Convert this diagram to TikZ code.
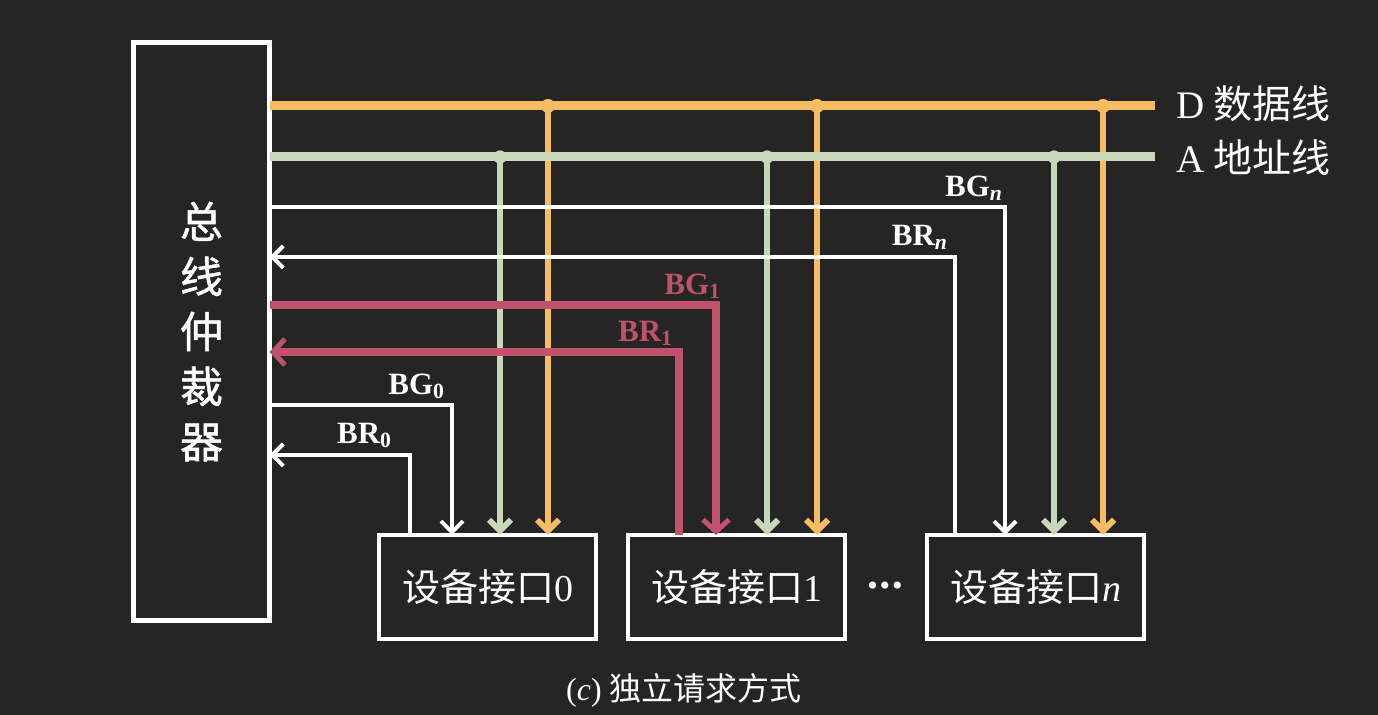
\documentclass[tikz,border=0pt]{standalone}
\usepackage{fontspec}
\setmainfont{Liberation Serif}
\newfontfamily\cjk{Noto Sans CJK SC}
\newfontfamily\cjkm[FakeBold=1.2]{Noto Sans CJK SC}
\usetikzlibrary{arrows.meta}
\definecolor{bgcol}{RGB}{37,37,37}
\definecolor{dcol}{RGB}{246,188,98}
\definecolor{acol}{RGB}{198,216,184}
\definecolor{rcol}{RGB}{192,82,108}
\begin{document}
\begin{tikzpicture}[x=0.5pt,y=-0.5pt,
  every node/.style={inner sep=0pt, outer sep=0pt},
  devbox/.style={draw=white, line width=2pt, minimum width=108.5pt, minimum height=52pt,
    anchor=north west, text=white, font=\fontsize{19}{22}\selectfont},
  arbbox/.style={draw=white, line width=2.5pt, minimum width=68pt, minimum height=289pt,
    text=white, align=center, font=\cjkm\fontsize{21.5}{27.5}\selectfont},
  wline/.style={draw=white, line width=2pt},
  dbus/.style={draw=dcol, line width=4.5pt},
  abus/.style={draw=acol, line width=4.5pt},
  dvert/.style={draw=dcol, line width=3pt},
  avert/.style={draw=acol, line width=3pt},
  rline/.style={draw=rcol, line width=4pt},
  tip/.style={-{Straight Barb[length=5.5pt,width=11pt]}},
  rtip/.style={-{Straight Barb[length=6pt,width=13pt,line width=2.5pt]}},
  siglabel/.style={font=\bfseries\fontsize{15.5}{18}\selectfont, anchor=south east, text=white},
  buslabel/.style={anchor=west, text=white, font=\fontsize{19.5}{22}\selectfont},
]
\fill[bgcol] (0,0) rectangle (1378,715);
\useasboundingbox (0,0) rectangle (1378,715);

% arbiter and device interfaces
\node[arbbox] (arb) at (201.5,331.5) {总\\线\\仲\\裁\\器};
\node[devbox] (d0) at (379,535) {{\cjk 设备接口}0};
\node[devbox] (d1) at (628,535) {{\cjk 设备接口}1};
\node[devbox] (dn) at (927,535) {{\cjk 设备接口}\textit{n}};
\node[text=white, font=\fontsize{15}{18}\selectfont] (dots) at (885,589) {\textbullet\hspace{1pt}\textbullet\hspace{1pt}\textbullet};

% bus ends and junctions
\coordinate (Dend) at (1155,106);
\coordinate (Aend) at (1155,157);
\coordinate (dj0) at (548,106);
\coordinate (dj1) at (817,106);
\coordinate (djn) at (1103,106);
\coordinate (aj0) at (500,157);
\coordinate (aj1) at (767,157);
\coordinate (ajn) at (1054,157);

% vertical bus taps
\foreach \j/\b in {aj0/d0, aj1/d1, ajn/dn}
  \draw[avert, tip] (\j) -- (\j |- \b.north);
\foreach \j/\b in {dj0/d0, dj1/d1, djn/dn}
  \draw[dvert, tip] (\j) -- (\j |- \b.north);

% buses
\draw[abus] (arb.east |- Aend) -- (Aend);
\draw[dbus] (arb.east |- Dend) -- (Dend);
\foreach \j in {aj0, aj1, ajn} \fill[acol] (\j) circle (3.3pt);
\foreach \j in {dj0, dj1, djn} \fill[dcol] (\j) circle (3.5pt);

% device n
\coordinate (bgn) at (1005,207);
\coordinate (brn) at (955,257);
\draw[wline, tip] (arb.east |- bgn) -- (bgn) -- (bgn |- dn.north);
\draw[wline, tip] (brn |- dn.north) -- (brn) -- (arb.east |- brn);

% device 1
\coordinate (bg1) at (716,305);
\coordinate (br1) at (679,352);
\draw[rline, rtip] (arb.east |- bg1) -- (bg1) -- (bg1 |- d1.north);
\draw[rline, rtip] (br1 |- d1.north) -- (br1) -- (arb.east |- br1);

% device 0
\coordinate (bg0) at (452,405);
\coordinate (br0) at (410,455);
\draw[wline, tip] (arb.east |- bg0) -- (bg0) -- (bg0 |- d0.north);
\draw[wline, tip] (br0 |- d0.north) -- (br0) -- (arb.east |- br0);

% signal labels
\node[siglabel] (lbgn) at (1003,201) {BG\textsubscript{\textit{n}}};
\node[siglabel] (lbrn) at (948,250) {BR\textsubscript{\textit{n}}};
\node[siglabel, text=rcol] (lbg1) at (721,299) {BG\textsubscript{1}};
\node[siglabel, text=rcol] (lbr1) at (673,346) {BR\textsubscript{1}};
\node[siglabel] (lbg0) at (445,399) {BG\textsubscript{0}};
\node[siglabel] (lbr0) at (392,448) {BR\textsubscript{0}};

% bus labels
\node[buslabel] (ld) at (1176,104) {D {\cjk 数据线}};
\node[buslabel] (la) at (1176,158) {A {\cjk 地址线}};

% caption
\node[text=white, font=\fontsize{16}{19}\selectfont] (cap) at (684,690) {(\textit{c}) {\cjk 独立请求方式}};
\end{tikzpicture}
\end{document}
